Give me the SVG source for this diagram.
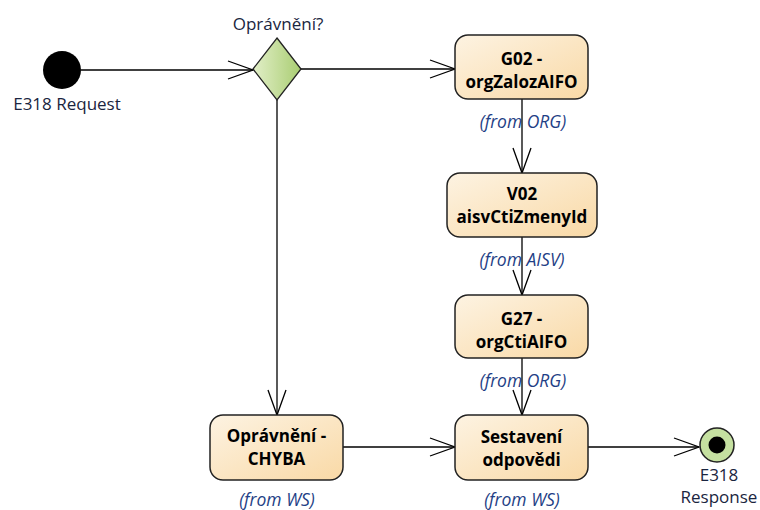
<svg xmlns="http://www.w3.org/2000/svg" width="760" height="510" viewBox="0 0 760 510">
<defs>
<linearGradient id="gBox" x1="0" y1="0" x2="1" y2="1">
<stop offset="0" stop-color="#fdf3e2"/>
<stop offset="1" stop-color="#f9d9a6"/>
</linearGradient>
<linearGradient id="gDia" x1="0" y1="0" x2="1" y2="0">
<stop offset="0" stop-color="#e2efc8"/>
<stop offset="1" stop-color="#a9cd72"/>
</linearGradient>
<marker id="arr" markerWidth="30" markerHeight="24" refX="26" refY="12" orient="auto" markerUnits="userSpaceOnUse">
<path d="M1,3 L26,12 L1,21" fill="none" stroke="#000" stroke-width="1.3"/>
</marker>
</defs>
<style>
.box{fill:url(#gBox);stroke:#222;stroke-width:1.5}
.t{font-family:"Open Sans","Liberation Sans",sans-serif;font-size:17px;font-weight:bold;fill:#000;text-anchor:middle}
.lbl{font-family:"Open Sans","Liberation Sans",sans-serif;font-size:17px;fill:#1a2540;text-anchor:middle}
.from{font-family:"Open Sans","Liberation Sans",sans-serif;font-size:17.5px;font-style:italic;fill:#1f3f86;text-anchor:middle}
.c{stroke:#000;stroke-width:1.3;fill:none;marker-end:url(#arr)}
</style>
<rect width="760" height="510" fill="#fff"/>
<g id="connectors">
<line class="c" x1="81" y1="70" x2="253" y2="70"/>
<line class="c" x1="301" y1="69" x2="455" y2="69"/>
<line class="c" x1="277" y1="100" x2="277" y2="415"/>
<line class="c" x1="522" y1="99" x2="522" y2="173"/>
<line class="c" x1="522" y1="237" x2="522" y2="295"/>
<line class="c" x1="522" y1="358" x2="522" y2="415"/>
<line class="c" x1="343" y1="447" x2="455" y2="447"/>
<line class="c" x1="588" y1="447" x2="699" y2="447"/>
</g>
<g id="start">
<circle cx="62" cy="70" r="19" fill="#000"/>
<text class="lbl" x="67" y="110">E318 Request</text>
</g>
<g id="decision">
<polygon points="277,38 301,69 277,100 253,69" fill="url(#gDia)" stroke="#222" stroke-width="1.3"/>
<text class="lbl" x="278" y="30">Oprávnění?</text>
</g>
<g id="g02">
<rect class="box" x="455" y="35" width="133" height="64" rx="13"/>
<text class="t" x="521.5" y="65">G02 -</text>
<text class="t" x="521.5" y="88">orgZalozAIFO</text>
<text class="from" x="523" y="128">(from ORG)</text>
</g>
<g id="v02">
<rect class="box" x="447" y="173" width="150" height="64" rx="13"/>
<text class="t" x="522" y="200">V02</text>
<text class="t" x="522" y="223">aisvCtiZmenyId</text>
<text class="from" x="522" y="266">(from AISV)</text>
</g>
<g id="g27">
<rect class="box" x="455" y="295" width="133" height="63" rx="13"/>
<text class="t" x="521.5" y="325">G27 -</text>
<text class="t" x="521.5" y="348">orgCtiAIFO</text>
<text class="from" x="523" y="387">(from ORG)</text>
</g>
<g id="chyba">
<rect class="box" x="210" y="415" width="133" height="65" rx="13"/>
<text class="t" x="276.5" y="442">Oprávnění -</text>
<text class="t" x="276.5" y="465">CHYBA</text>
<text class="from" x="277" y="506">(from WS)</text>
</g>
<g id="sestaveni">
<rect class="box" x="455" y="415" width="133" height="65" rx="13"/>
<text class="t" x="521.5" y="443">Sestavení</text>
<text class="t" x="521.5" y="466">odpovědi</text>
<text class="from" x="522" y="506">(from WS)</text>
</g>
<g id="end">
<circle cx="717" cy="445" r="17" fill="#c5e0a0" stroke="#222" stroke-width="1.5"/>
<circle cx="717" cy="445" r="8.5" fill="#000"/>
<text class="lbl" x="719" y="481">E318</text>
<text class="lbl" x="719" y="503">Response</text>
</g>
</svg>
